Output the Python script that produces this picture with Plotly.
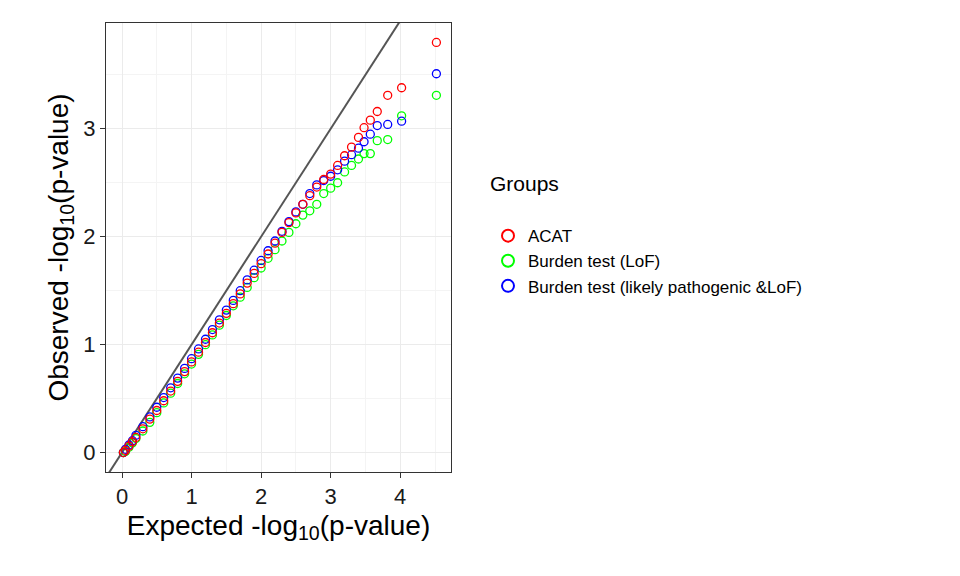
import plotly.graph_objects as go

# Expected -log10(p) (shared quantile positions)
expected = [0.02, 0.05, 0.1, 0.15, 0.2, 0.3, 0.4, 0.5, 0.6, 0.7, 0.8, 0.9, 1.0, 1.1, 1.2,
            1.3, 1.4, 1.5, 1.6, 1.7, 1.8, 1.9, 2.0, 2.1, 2.2, 2.3, 2.4, 2.5, 2.6, 2.7,
            2.8, 2.9, 3.0, 3.1, 3.2, 3.3, 3.4, 3.48, 3.57, 3.67, 3.82, 4.02, 4.52]

acat = [0.0, 0.02, 0.06, 0.1, 0.14, 0.22, 0.31, 0.39, 0.48, 0.57, 0.66, 0.75, 0.84, 0.93, 1.02,
        1.11, 1.2, 1.29, 1.38, 1.47, 1.57, 1.66, 1.75, 1.84, 1.94, 2.04, 2.13, 2.22, 2.30, 2.38,
        2.46, 2.53, 2.58, 2.66, 2.75, 2.83, 2.92, 3.01, 3.08, 3.16, 3.31, 3.38, 3.80]
burden_lof = [0.0, 0.01, 0.05, 0.09, 0.13, 0.2, 0.28, 0.37, 0.46, 0.55, 0.64, 0.73, 0.82, 0.91, 1.0,
              1.09, 1.18, 1.27, 1.36, 1.44, 1.53, 1.62, 1.71, 1.8, 1.88, 1.96, 2.04, 2.12, 2.2, 2.24,
              2.3, 2.4, 2.45, 2.5, 2.6, 2.66, 2.72, 2.77, 2.77, 2.89, 2.90, 3.12, 3.31]
burden_lp = [0.0, 0.03, 0.07, 0.11, 0.16, 0.24, 0.33, 0.42, 0.51, 0.6, 0.69, 0.78, 0.87, 0.96, 1.05,
             1.14, 1.23, 1.32, 1.41, 1.5, 1.6, 1.69, 1.78, 1.87, 1.96, 2.05, 2.14, 2.23, 2.3, 2.4,
             2.48, 2.52, 2.56, 2.62, 2.7, 2.76, 2.82, 2.88, 2.95, 3.03, 3.04, 3.07, 3.51]

groups = [
    ("Burden test (LoF)", burden_lof, "#00ff00", 2),
    ("Burden test (likely pathogenic &LoF)", burden_lp, "#0000ff", 3),
    ("ACAT", acat, "#ff0000", 1),
]

x_range = [-0.23, 4.73]
y_range = [-0.18, 3.98]

fig = go.Figure()

# identity line
fig.add_trace(go.Scatter(
    x=[-1, 5], y=[-1, 5], mode="lines",
    line=dict(color="#555555", width=2),
    showlegend=False, hoverinfo="skip"
))

for name, obs, color, rank in groups:
    fig.add_trace(go.Scatter(
        x=expected, y=obs, mode="markers", name=name, legendrank=rank,
        marker=dict(symbol="circle-open", size=8, color=color, line=dict(width=1.3)),
    ))

axis_common = dict(
    showline=True, mirror=True, linecolor="#333333", linewidth=1,
    showgrid=True, gridcolor="#ebebeb", gridwidth=1,
    minor=dict(showgrid=True, gridcolor="#f4f4f4", dtick=0.5),
    ticks="outside", tickcolor="#333333", ticklen=5,
    tickfont=dict(size=22, color="#1a1a1a"), zeroline=False, automargin=False,
)

fig.update_layout(
    width=960, height=576,
    paper_bgcolor="white", plot_bgcolor="white",
    font=dict(family="Liberation Sans, Arial, sans-serif"),
    margin=dict(l=98, r=517, t=15, b=112),
    xaxis=dict(axis_common, range=x_range, dtick=1,
               title=dict(text="Expected -log<sub>10</sub>(p-value)", font=dict(size=28, color="black"), standoff=6)),
    yaxis=dict(axis_common, range=y_range, dtick=1,
               title=dict(text="Observed -log<sub>10</sub>(p-value)", font=dict(size=28, color="black"), standoff=6)),
    legend=dict(
        xref="container", yref="container", x=0.5, y=0.73, xanchor="left", yanchor="top",
        title=dict(text="Groups<br> ", font=dict(size=21, color="black")),
        font=dict(size=17, color="black"), itemsizing="constant", tracegroupgap=24,
    ),
)

fig.write_html("out.html")
